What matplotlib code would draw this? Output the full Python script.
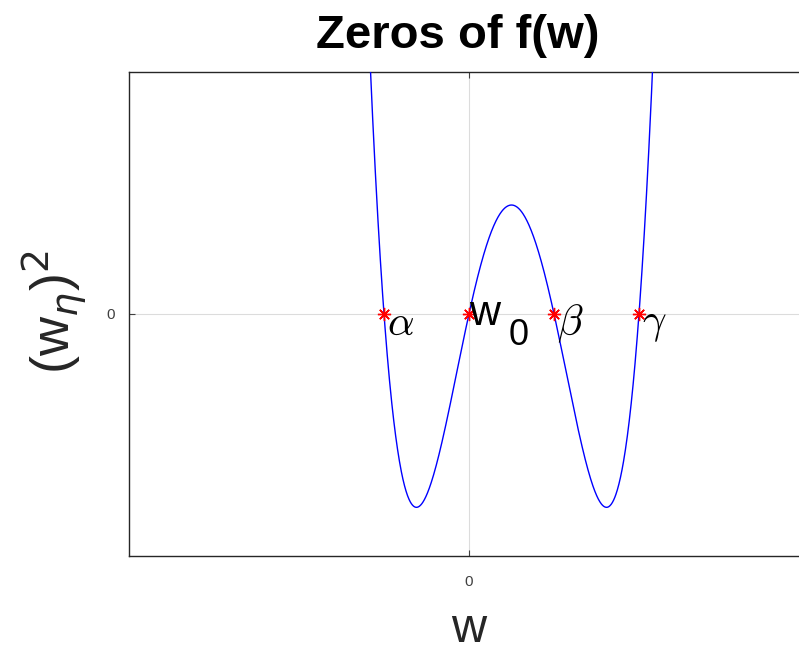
import numpy as np
import matplotlib
matplotlib.use("Agg")
import matplotlib.pyplot as plt

plt.rcParams['font.family'] = ['Liberation Sans', 'DejaVu Sans']
plt.rcParams['mathtext.fontset'] = 'cm'

# zeros of the quartic and their labels
zeros = [-1.0, 0.0, 1.0, 2.0]
zero_labels = [r'$\alpha$', 'w', r'$\beta$', r'$\gamma$']
x_ticks = [0]
y_ticks = [0]

# f(w) built from its roots
coeffs = np.poly(zeros)
w = np.linspace(-1.3, 2.3, 800)
f = np.polyval(coeffs, w)

fig = plt.figure(figsize=(7.99, 6.54), dpi=100)
ax = fig.add_axes([129 / 799, 98.3 / 654, 680 / 799, 483.7 / 654])

ax.plot(w, f, color='blue', lw=1.0, zorder=3)
ax.plot(zeros, [0] * len(zeros), ls='none', marker=(8, 2, 0), color='red',
        markersize=9.5, mew=1.0, zorder=4)

# labels next to each zero
for z, lab in zip(zeros, zero_labels):
    if lab == 'w':
        ax.text(z, 0, 'w', fontsize=31, va='center', ha='left', color='black',
                zorder=5)
        ax.text(z + 0.47, -0.11, '0', fontsize=26, va='center', ha='left',
                color='black', zorder=5)
    else:
        ax.text(z + 0.04, -0.05, lab, fontsize=30, va='center', ha='left',
                color='black', zorder=5)

ax.set_xlim(-4, 4)
ax.set_ylim(-1.25, 1.25)
ax.set_xticks(x_ticks)
ax.set_yticks(y_ticks)
ax.tick_params(direction='in', length=4, width=0.8, colors='#404040',
               labelsize=11, top=True, right=True)
ax.tick_params(axis='x', pad=14)
ax.tick_params(axis='y', pad=10)
ax.grid(True, color='#dcdcdc', lw=0.8, zorder=0)
for sp in ax.spines.values():
    sp.set_color('#262626')
    sp.set_linewidth(1.0)

ax.set_xlabel('w', fontsize=35, color='#262626')
ax.xaxis.set_label_coords(0.5, -0.199)
ax.xaxis.label.set_va('bottom')
ax.set_ylabel(r'(w$_{\eta}$)$^{2}$', fontsize=39, color='#262626',
              math_fontfamily='dejavusans')
ax.yaxis.set_label_coords(-0.110, 0.503)
ax.yaxis.label.set_va('center')

ax.text(0.484, 1.0745, 'Zeros of f(w)', transform=ax.transAxes, fontsize=34,
        fontweight='bold', ha='center', va='center')

fig.savefig('out.png', dpi=100)
